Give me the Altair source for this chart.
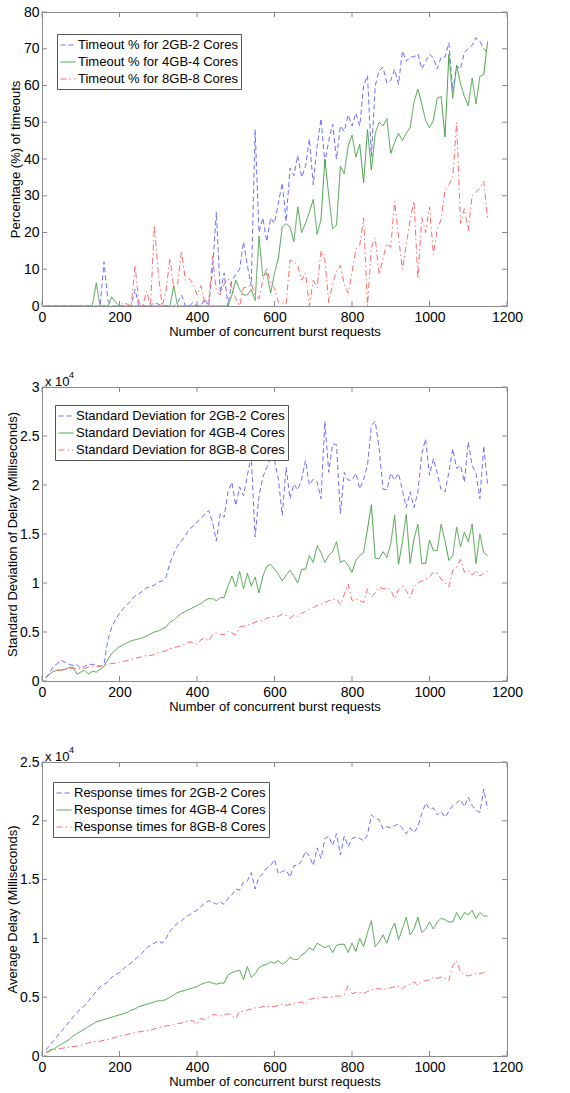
import altair as alt
import pandas as pd

# ---------------- data ----------------
x_requests = [10, 20, 30, 40, 50, 60, 70, 80, 90, 100,
              110, 120, 130, 140, 150, 160, 170, 180, 190, 200,
              210, 220, 230, 240, 250, 260, 270, 280, 290, 300,
              310, 320, 330, 340, 350, 360, 370, 380, 390, 400,
              410, 420, 430, 440, 450, 460, 470, 480, 490, 500,
              510, 520, 530, 540, 550, 560, 570, 580, 590, 600,
              610, 620, 630, 640, 650, 660, 670, 680, 690, 700,
              710, 720, 730, 740, 750, 760, 770, 780, 790, 800,
              810, 820, 830, 840, 850, 860, 870, 880, 890, 900,
              910, 920, 930, 940, 950, 960, 970, 980, 990, 1000,
              1010, 1020, 1030, 1040, 1050, 1060, 1070, 1080, 1090, 1100,
              1110, 1120, 1130, 1140, 1150]

timeout_2gb = [0, 0, 0, 0, 0, 0, 0, 0, 0, 0,
               0, 0, 0, 0, 0, 12, 1.5, 0, 0, 0,
               0, 0, 0, 4.5, 0, 0, 0, 0, 1, 0.5,
               0, 0, 0, 0, 1, 3, 0, 0, 1, 0,
               0, 2, 0, 10, 25.5, 3.5, 9, 0, 7, 8.5,
               10, 17.5, 11, 5.5, 48, 20, 24, 17.5, 24, 22.5,
               28, 33.5, 23, 37.5, 35.5, 41, 35, 38, 45.5, 33,
               43.5, 51, 39, 45, 49.5, 40, 49, 47.5, 52, 49,
               52.5, 49, 60, 62.7, 40.7, 60, 64, 65, 60.7, 61.4,
               64.4, 60.3, 69.4, 66.6, 67.8, 67.8, 68.6, 64.5, 66.5, 68.5,
               67.5, 64.5, 67.7, 67.7, 71.6, 58.5, 65.3, 64.5, 69, 70,
               71, 73, 72, 70, 69]
timeout_4gb = [0, 0, 0, 0, 0, 0, 0, 0, 0, 0,
               0, 0, 0, 6.3, 0, 0, 0, 2.5, 1, 0,
               0, 0, 0, 0, 0, 0, 0, 0, 0, 0,
               0, 0, 0, 5.5, 0, 0, 0, 0, 0, 0,
               0, 0, 0, 0, 0, 0, 0, 0, 3, 7,
               4.5, 3, 3, 4.5, 1.5, 19, 8, 9, 3.5, 9,
               13, 21.5, 22.4, 21.5, 17.5, 27, 20, 22.5, 25.5, 29,
               19.5, 23.5, 40, 30, 21, 22, 38, 36, 43.5, 46.5,
               40.5, 44, 33.5, 48, 37, 47, 50, 49, 51, 41.5,
               44.5, 47, 45, 47, 48.5, 55.5, 59, 55, 50.5, 48.5,
               50.5, 56.5, 57, 46, 68.5, 56.5, 65.5, 60.5, 57, 54.5,
               62, 55, 62.5, 63, 72]
timeout_8gb = [0, 0, 0, 0, 0, 0, 0, 0, 0, 0,
               0, 0, 0, 0, 0, 0, 0, 0, 0, 0,
               1, 0.5, 0, 11, 1, 0, 4, 0, 22, 9,
               0, 4, 13, 5, 6, 15, 7, 7.5, 6, 3,
               5.5, 1, 0.5, 13.5, 4, 3, 6, 7.5, 5, 2,
               0, 5, 5, 6, 3, 2, 7, 10.5, 6, 5,
               1, 1, 0.5, 12.5, 12, 11, 7, 9, 0, 7,
               5, 15, 12.5, 1, 6, 9.5, 11, 6, 3.5, 9,
               15.5, 16.5, 24, 0, 16, 18.5, 8.5, 13, 17, 16,
               28.5, 19, 10, 16.5, 23.5, 28.5, 7.5, 24, 20, 27,
               14, 21, 23.5, 31.5, 33, 35, 50, 22.5, 26.5, 20.5,
               30, 31, 32, 34, 23.5]

std_2gb = [0.03, 0.09, 0.15, 0.18, 0.21, 0.19, 0.17, 0.16, 0.17, 0.13,
           0.15, 0.17, 0.17, 0.16, 0.15, 0.17, 0.42, 0.55, 0.63, 0.69,
           0.74, 0.78, 0.82, 0.87, 0.89, 0.92, 0.95, 0.96, 0.98, 1.01,
           1.02, 1.06, 1.2, 1.3, 1.38, 1.43, 1.48, 1.55, 1.58, 1.62,
           1.66, 1.70, 1.74, 1.62, 1.43, 1.71, 1.67, 1.93, 2.03, 1.79,
           1.98, 1.89, 2.1, 2.29, 1.47, 1.89, 2.08, 2.18, 2.27, 2.25,
           2.06, 1.69, 2.18, 1.86, 2.01, 1.95, 2.06, 2.25, 2.0, 2.06,
           2.03, 1.86, 2.65, 2.13, 2.42, 2.41, 1.71, 2.13, 2.05, 2.05,
           2.12, 1.96, 2.06, 2.2, 2.61, 2.65, 2.37, 1.96, 1.95, 2.12,
           2.05, 2.12, 1.95, 1.77, 1.93, 1.77, 1.93, 2.32, 2.47, 2.1,
           2.27, 2.12, 1.95, 1.93, 2.13, 2.37, 2.17, 2.2, 2.03, 2.44,
           2.2, 2.12, 1.86, 2.4, 2.0]
std_4gb = [0.03, 0.07, 0.1, 0.11, 0.11, 0.12, 0.14, 0.14, 0.07, 0.09,
           0.11, 0.07, 0.1, 0.09, 0.12, 0.15, 0.22, 0.28, 0.32, 0.35,
           0.37, 0.39, 0.41, 0.42, 0.43, 0.44, 0.46, 0.48, 0.5, 0.51,
           0.53, 0.55, 0.6, 0.62, 0.66, 0.69, 0.71, 0.73, 0.75, 0.77,
           0.79, 0.82, 0.84, 0.84, 0.82, 0.85, 0.85, 0.97, 1.07, 0.96,
           1.12, 0.94, 1.1, 0.97, 1.06, 0.9, 1.07, 1.17, 1.19, 1.14,
           1.09, 1.02, 1.08, 1.13, 1.07, 1.0, 1.14, 1.14, 1.28, 1.21,
           1.38, 1.31, 1.21, 1.28, 1.32, 1.42, 1.21, 1.23, 1.18, 1.11,
           1.23, 1.28, 1.31, 1.55, 1.8, 1.25, 1.25, 1.32, 1.26, 1.4,
           1.69, 1.19, 1.42, 1.7, 1.2, 1.45, 1.6, 1.2, 1.2, 1.44,
           1.33, 1.33, 1.6, 1.43, 1.23, 1.28, 1.57, 1.37, 1.52, 1.42,
           1.6, 1.2, 1.5, 1.31, 1.28]
std_8gb = [0.03, 0.07, 0.1, 0.11, 0.11, 0.12, 0.13, 0.13, 0.12, 0.13,
           0.13, 0.14, 0.15, 0.15, 0.15, 0.16, 0.17, 0.18, 0.18, 0.19,
           0.2, 0.21, 0.22, 0.23, 0.24, 0.25, 0.26, 0.26, 0.27, 0.29,
           0.3, 0.31, 0.33, 0.34, 0.35, 0.36, 0.38, 0.4, 0.39, 0.375,
           0.42, 0.44, 0.41, 0.47, 0.49, 0.48, 0.47, 0.51, 0.49, 0.47,
           0.55, 0.56, 0.57, 0.58, 0.6, 0.62, 0.61, 0.64, 0.65, 0.66,
           0.66, 0.68, 0.67, 0.64, 0.67, 0.66, 0.69, 0.71, 0.73, 0.75,
           0.77, 0.78, 0.8, 0.82, 0.83, 0.84, 0.78, 0.88, 0.99, 0.82,
           0.84, 0.82, 0.8, 0.94, 0.86, 0.9, 0.96, 0.94, 0.95, 0.93,
           0.84, 0.93, 0.97, 0.92, 0.85, 0.96, 1.0, 1.02, 1.04, 1.06,
           1.11, 1.1, 1.04, 1.0, 0.96, 1.13, 1.16, 1.24, 1.11, 1.13,
           1.08, 1.13, 1.07, 1.1, 1.12]

avg_2gb = [0.05, 0.09, 0.13, 0.17, 0.21, 0.25, 0.29, 0.33, 0.37, 0.4,
           0.43, 0.47, 0.51, 0.55, 0.59, 0.61, 0.63, 0.67, 0.69, 0.71,
           0.74, 0.77, 0.79, 0.82, 0.85, 0.88, 0.92, 0.94, 0.96, 0.98,
           0.96, 1.0, 1.06, 1.1, 1.13, 1.15, 1.18, 1.2, 1.22, 1.24,
           1.27, 1.3, 1.32, 1.31, 1.29, 1.31, 1.29, 1.34, 1.37, 1.42,
           1.41, 1.48, 1.49, 1.56, 1.42, 1.52, 1.55, 1.6, 1.62, 1.67,
           1.55, 1.57, 1.58, 1.52, 1.62, 1.62, 1.66, 1.74, 1.7, 1.62,
           1.77, 1.68, 1.85, 1.87, 1.79, 1.89, 1.71, 1.87, 1.78, 1.85,
           1.86, 1.85, 1.83, 1.88, 2.05, 2.02, 2.01, 1.93, 1.95, 1.94,
           1.96, 1.97, 1.94, 1.89, 1.94, 1.9, 1.95, 2.06, 2.15, 2.1,
           2.11, 2.05, 2.08, 2.03, 2.08, 2.13, 2.15, 2.18, 2.12, 2.2,
           2.13, 2.09, 2.07, 2.27, 2.1]
avg_4gb = [0.03, 0.05, 0.06, 0.08, 0.1, 0.12, 0.14, 0.17, 0.19, 0.21,
           0.23, 0.25, 0.27, 0.29, 0.3, 0.31, 0.32, 0.33, 0.34, 0.35,
           0.36, 0.37, 0.39, 0.4, 0.42, 0.43, 0.44, 0.45, 0.46, 0.47,
           0.47, 0.48, 0.5, 0.52, 0.54, 0.55, 0.56, 0.57, 0.58, 0.59,
           0.61, 0.62, 0.63, 0.62, 0.61, 0.62, 0.62, 0.69, 0.71, 0.72,
           0.73, 0.65, 0.76, 0.67, 0.7, 0.75, 0.77, 0.78, 0.8, 0.79,
           0.81, 0.78, 0.8, 0.84, 0.82, 0.82, 0.86, 0.88, 0.92, 0.9,
           0.96, 0.94, 0.92, 0.94, 0.88, 0.94, 0.95, 0.95, 0.88, 0.96,
           0.89, 1.0, 0.93, 1.05, 1.15, 0.93, 0.97, 1.03, 0.96, 1.06,
           1.13, 0.99, 1.08, 1.18, 1.03, 1.08, 1.18, 1.05, 1.08, 1.14,
           1.08, 1.14, 1.17, 1.16, 1.14, 1.14, 1.22, 1.16, 1.22, 1.2,
           1.24, 1.17, 1.22, 1.19, 1.19]
avg_8gb = [0.03, 0.04, 0.05, 0.06, 0.065, 0.07, 0.075, 0.08, 0.085, 0.09,
           0.1, 0.11, 0.12, 0.125, 0.125, 0.135, 0.14, 0.15, 0.16, 0.17,
           0.175, 0.185, 0.19, 0.2, 0.205, 0.21, 0.215, 0.22, 0.23, 0.24,
           0.25, 0.255, 0.26, 0.27, 0.275, 0.28, 0.29, 0.3, 0.3, 0.27,
           0.32, 0.31, 0.33, 0.35, 0.35, 0.34, 0.35, 0.36, 0.34, 0.32,
           0.38, 0.38, 0.39, 0.4, 0.41, 0.41, 0.42, 0.42, 0.42, 0.42,
           0.43, 0.44, 0.43, 0.44, 0.45, 0.45, 0.46, 0.44, 0.48, 0.49,
           0.49, 0.5, 0.5, 0.5, 0.5, 0.51, 0.51, 0.52, 0.6, 0.53,
           0.54, 0.54, 0.53, 0.55, 0.56, 0.58, 0.57, 0.57, 0.57, 0.58,
           0.59, 0.59, 0.57, 0.6, 0.61, 0.63, 0.6, 0.63, 0.64, 0.65,
           0.67, 0.66, 0.67, 0.66, 0.64, 0.77, 0.81, 0.72, 0.69, 0.68,
           0.69, 0.7, 0.7, 0.71, 0.7]

timeout_labels = ["Timeout % for 2GB-2 Cores", "Timeout % for 4GB-4 Cores",
                  "Timeout % for 8GB-8 Cores"]
std_labels = ["Standard Deviation for 2GB-2 Cores", "Standard Deviation for 4GB-4 Cores",
              "Standard Deviation for 8GB-8 Cores"]
avg_labels = ["Response times for 2GB-2 Cores", "Response times for 4GB-4 Cores",
              "Response times for 8GB-8 Cores"]

x_ticks = [0, 200, 400, 600, 800, 1000, 1200]
timeout_ticks = [0, 10, 20, 30, 40, 50, 60, 70, 80]
std_ticks = [0, 0.5, 1, 1.5, 2, 2.5, 3]
avg_ticks = [0, 0.5, 1, 1.5, 2, 2.5]

for s in [timeout_2gb, timeout_4gb, timeout_8gb, std_2gb, std_4gb, std_8gb,
          avg_2gb, avg_4gb, avg_8gb]:
    assert len(s) == len(x_requests), len(s)

# ---------------- styling ----------------
FONT = "Liberation Sans"
W, H = 465, 294
COLORS = ["#6e6eff", "#45a045", "#ff6a6a"]
DASHES = [[5, 3], [1, 0], [6, 3, 1.5, 3]]
FRAME = "#8a8a8a"
XTITLE = "Number of concurrent burst requests"


def panel(labels, series, ymax, yticks, yfmt, ytitle, ytitle_x, leg_xy, exponent):
    rows = []
    for lab, vals in zip(labels, series):
        for xv, yv in zip(x_requests, vals):
            rows.append({"x": xv, "y": yv, "series": lab})
    df = pd.DataFrame(rows)

    xscale = alt.Scale(domain=[0, 1200], nice=False, zero=False)
    yscale = alt.Scale(domain=[0, ymax], nice=False, zero=False)
    x_axis = alt.Axis(
        values=x_ticks, format="d", title=XTITLE, ticks=False, domain=False,
        grid=False, labelPadding=4, labelFlush=False, labelOverlap=False,
        labelFont=FONT, labelFontSize=14, labelColor="black",
        titleFont=FONT, titleFontSize=13, titleFontWeight="normal", titleColor="black",
        titleY=25, titleBaseline="middle")
    y_axis = alt.Axis(
        values=yticks, format=yfmt, title=ytitle, ticks=False, domain=False,
        grid=False, labelPadding=3, labelOverlap=False,
        labelFont=FONT, labelFontSize=14, labelColor="black",
        titleFont=FONT, titleFontSize=13, titleFontWeight="normal", titleColor="black",
        titleX=ytitle_x, titleY=H / 2, titleBaseline="middle")
    legend = alt.Legend(
        title=None, orient="none", legendX=leg_xy[0], legendY=leg_xy[1],
        symbolType="stroke", symbolSize=225, symbolStrokeWidth=1,
        labelFont=FONT, labelFontSize=13, labelColor="black", labelLimit=400,
        labelOffset=2, rowPadding=2, padding=3,
        strokeColor="#555555", fillColor="white",
    )
    lines = alt.Chart(df).mark_line(strokeWidth=1, clip=True).encode(
        x=alt.X("x:Q", scale=xscale, axis=x_axis),
        y=alt.Y("y:Q", scale=yscale, axis=y_axis),
        color=alt.Color("series:N", scale=alt.Scale(domain=labels, range=COLORS),
                        legend=legend),
        strokeDash=alt.StrokeDash("series:N", scale=alt.Scale(domain=labels, range=DASHES),
                                  legend=legend),
    )

    xt = pd.DataFrame({"x": x_ticks})
    yt = pd.DataFrame({"y": yticks})
    tick_b = alt.Chart(xt).mark_rule(color=FRAME, strokeWidth=1).encode(
        x=alt.X("x:Q", scale=xscale, axis=x_axis), y=alt.value(H), y2=alt.value(H - 5))
    tick_t = alt.Chart(xt).mark_rule(color=FRAME, strokeWidth=1).encode(
        x=alt.X("x:Q", scale=xscale, axis=x_axis), y=alt.value(0), y2=alt.value(5))
    tick_l = alt.Chart(yt).mark_rule(color=FRAME, strokeWidth=1).encode(
        y=alt.Y("y:Q", scale=yscale, axis=y_axis), x=alt.value(0), x2=alt.value(5))
    tick_r = alt.Chart(yt).mark_rule(color=FRAME, strokeWidth=1).encode(
        y=alt.Y("y:Q", scale=yscale, axis=y_axis), x=alt.value(W), x2=alt.value(W - 5))

    layers = [lines, tick_b, tick_t, tick_l, tick_r]
    if exponent:
        base_txt = alt.Chart(pd.DataFrame({"t": ["x 10"]})).mark_text(
            font=FONT, fontSize=13, align="left", baseline="alphabetic", color="black"
        ).encode(text="t:N", x=alt.value(3), y=alt.value(-1))
        exp_txt = alt.Chart(pd.DataFrame({"t": ["4"]})).mark_text(
            font=FONT, fontSize=9, align="left", baseline="alphabetic", color="black"
        ).encode(text="t:N", x=alt.value(27), y=alt.value(-9))
        layers += [base_txt, exp_txt]
    return alt.layer(*layers).properties(width=W, height=H)


p1 = panel(timeout_labels, [timeout_2gb, timeout_4gb, timeout_8gb], 80, timeout_ticks, "d",
           "Percentage (%) of timeouts", -27, (15, 22), False)
p2 = panel(std_labels, [std_2gb, std_4gb, std_8gb], 3, std_ticks, "~g",
           "Standard Deviation of Delay (Milliseconds)", -30, (13, 18), True)
p3 = panel(avg_labels, [avg_2gb, avg_4gb, avg_8gb], 2.5, avg_ticks, "~g",
           "Average Delay (Milliseconds)", -30, (11, 20), True)

chart = alt.vconcat(p1, p2, p3, spacing=81, bounds="flush").resolve_scale(
    color="independent", strokeDash="independent", x="independent", y="independent"
).resolve_legend(color="independent", strokeDash="independent").properties(
    padding={"left": 5, "top": 4, "right": 5, "bottom": 5},
    background="white",
).configure_view(
    stroke=FRAME, strokeWidth=1
)

chart.save("out.html", embed_options={"renderer": "svg", "actions": False})
